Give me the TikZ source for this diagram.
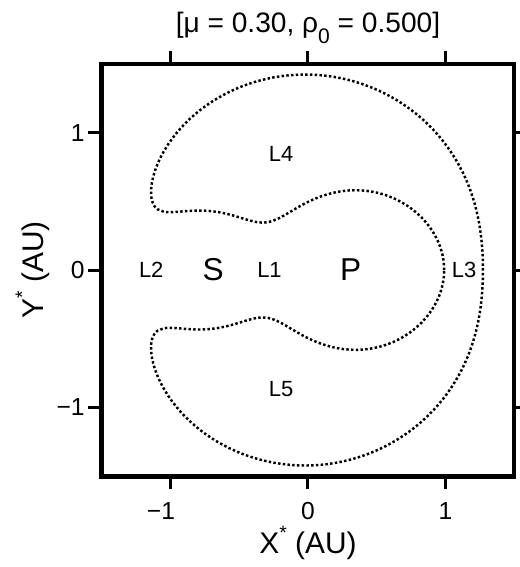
\documentclass[tikz,border=0pt]{standalone}
\usepackage{fontspec}
\setmainfont{Liberation Sans}
\usepackage{xcolor}
\definecolor{plotink}{RGB}{0, 0, 0}
\usepackage{tikz}
\usetikzlibrary{arrows.meta, positioning, calc}

\newcommand{\jacC}{1.6815}
\newcommand{\jacg}[1]{%
  \pgfmathsetmacro\jx{#1*\cth}%
  \pgfmathsetmacro\jy{#1*\sth}%
  \pgfmathparse{0.5*(\jx*\jx+\jy*\jy)+0.3/sqrt((\jx+0.7)*(\jx+0.7)+\jy*\jy)+0.7/sqrt((\jx-0.3)*(\jx-0.3)+\jy*\jy)-\jacC}%
  \xdef\gres{\pgfmathresult}}
\newcommand{\jacroot}[2]{%
  \xdef\blo{#1}\xdef\bhi{#2}%
  \jacg{#1}\xdef\glo{\gres}%
  \foreach \k in {1,...,13}{%
    \pgfmathsetmacro\bmid{0.5*(\blo+\bhi)}%
    \jacg{\bmid}%
    \ifdim\gres pt>0pt \def\sgna{1}\else\def\sgna{0}\fi
    \ifdim\glo pt>0pt \def\sgnb{1}\else\def\sgnb{0}\fi
    \ifx\sgna\sgnb \xdef\blo{\bmid}\else\xdef\bhi{\bmid}\fi}%
  \pgfmathsetmacro\rres{0.5*(\blo+\bhi)}%
  \xdef\rres{\rres}}
\newcommand{\zvcstep}[1]{%
  \pgfmathsetmacro\cth{cos(#1)}%
  \pgfmathsetmacro\sth{sin(#1)}%
  \xdef\gmin{100}\xdef\rmin{1}%
  \foreach \rr in {0.8,0.85,...,1.5}{\jacg{\rr}\ifdim\gres pt<\gmin pt\relax\xdef\gmin{\gres}\xdef\rmin{\rr}\fi}%
  \ifdim\gmin pt<0pt
    \jacroot{0.35}{\rmin}%
    \pgfmathsetmacro\px{\rres*\cth}\pgfmathsetmacro\py{\rres*\sth}\pgfmathsetmacro\qy{-\py}%
    \xdef\inup{\inup(\px,\py) -- }\xdef\indn{(\px,\qy) -- \indn}%
    \jacroot{\rmin}{1.8}%
    \pgfmathsetmacro\px{\rres*\cth}\pgfmathsetmacro\py{\rres*\sth}\pgfmathsetmacro\qy{-\py}%
    \xdef\outup{(\px,\py) -- \outup}\xdef\outdn{\outdn(\px,\qy) -- }%
  \fi}

\tikzset{
  zvc/.style={plotink, line width=1.4pt, dash pattern=on 1.4pt off 1.3pt},
  plotframe/.style={plotink, line width=2.6pt},
  axtick/.style={plotink, line width=1.7pt},
  ticklab/.style={font=\fontsize{14}{16}\selectfont, inner sep=0pt},
  axlab/.style={font=\fontsize{17}{20}\selectfont, inner sep=0pt},
  titlelab/.style={font=\fontsize{16}{18}\selectfont, inner sep=0pt},
  lagr/.style={font=\fontsize{12.5}{14}\selectfont, inner sep=0pt},
  body/.style={font=\fontsize{18}{20}\selectfont, inner sep=0pt}
}

\begin{document}
\begin{tikzpicture}[x=2.75cm, y=2.75cm, >=Stealth]
    \useasboundingbox (-2.24,-2.16) rectangle (1.535,1.964);

    \gdef\inup{}\gdef\outup{}\gdef\outdn{}\gdef\indn{}
    \foreach \th in {0,2,...,140}{\zvcstep{\th}}
    \foreach \th in {141,142,...,150}{\zvcstep{\th}}
    \foreach \th in {150.2,150.4,...,161}{\zvcstep{\th}}
    \edef\zvcpath{\noexpand\draw[zvc] \inup\outup\outdn\indn cycle;}
    \zvcpath

    \draw[plotframe] (-1.5,-1.5) rectangle (1.5,1.5);
    \foreach \v in {-1,0,1}{
      \draw[axtick] (\v,1.5) -- (\v,1.59);
      \draw[axtick] (\v,-1.5) -- (\v,-1.59);
      \draw[axtick] (-1.5,\v) -- (-1.6,\v);
      \draw[axtick] (1.5,\v) -- (1.6,\v);
    }

    \node[ticklab, anchor=base] (xm) at (-1.069,-1.811) {−1};
    \node[ticklab, anchor=base] (xz) at (0,-1.811) {0};
    \node[ticklab, anchor=base] (xp) at (1.0,-1.811) {1};
    \node[ticklab, anchor=east] (ym) at (-1.622,-1) {−1};
    \node[ticklab, anchor=east] (yz) at (-1.622,0) {0};
    \node[ticklab, anchor=east] (yp) at (-1.622,1) {1};

    \node[axlab, anchor=base] (xaxis) at (0,-2.065) {X\raisebox{8pt}{\fontsize{11}{11}\selectfont *} (AU)};
    \node[axlab, anchor=base, rotate=90] (yaxis) at (-1.927,0) {Y\raisebox{8pt}{\fontsize{11}{11}\selectfont *} (AU)};
    \node[titlelab, anchor=base] (title) at (0,1.724) {[μ = 0.30, ρ\raisebox{-5.7pt}{\fontsize{12}{12}\selectfont 0} = 0.500]};

    \node[lagr] (L1) at (-0.28,0) {L1};
    \node[lagr] (L2) at (-1.14,0) {L2};
    \node[lagr] (L3) at (1.135,0) {L3};
    \node[lagr] (L4) at (-0.196,0.847) {L4};
    \node[lagr] (L5) at (-0.196,-0.869) {L5};
    \node[body] (sun) at (-0.69,0) {S};
    \node[body] (planet) at (0.31,0) {P};
\end{tikzpicture}
\end{document}
